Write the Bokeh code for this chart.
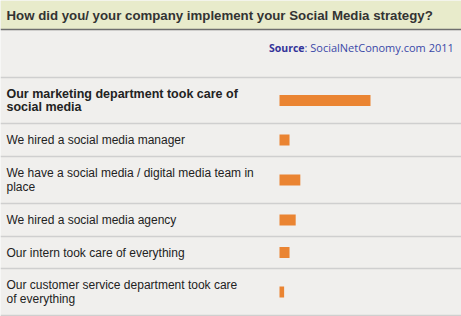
from bokeh.plotting import figure
from bokeh.models import Range1d
from bokeh.embed import file_html
from bokeh.resources import INLINE
from bokeh.core.properties import value

# ---- data ----
title = "How did you/ your company implement your Social Media strategy?"
source_label = "Source"
source_rest = ": SocialNetConomy.com 2011"
categories = [
    "Our marketing department took care of\nsocial media",
    "We hired a social media manager",
    "We have a social media / digital media team in\nplace",
    "We hired a social media agency",
    "Our intern took care of everything",
    "Our customer service department took care\nof everything",
]
values = [59, 6.5, 13.5, 10.5, 6.5, 3]

# ---- layout (pixel space) ----
W, H = 461, 316
row_bounds = [77, 123, 156, 203, 236, 268, 315]
centers = [(a + b) / 2 for a, b in zip(row_bounds[:-1], row_bounds[1:])]
bar_x0 = 279
px_per_unit = 91 / 59

BG = "#f0efed"
p = figure(width=W, height=H, x_range=Range1d(0, W), y_range=Range1d(H, 0),
           output_backend="svg", toolbar_location=None, min_border=0)
p.axis.visible = False
p.grid.visible = False
p.outline_line_color = None
p.background_fill_color = BG
p.border_fill_color = BG

p.extra_x_ranges = {"val": Range1d(start=-bar_x0 / px_per_unit, end=(W - bar_x0) / px_per_unit)}

# title band
p.quad(left=0, right=W, top=0, bottom=28.5, fill_color="#e8ebcb", line_color=None)
p.segment(x0=0, x1=W, y0=29, y1=29, line_color="#6e6e6e", line_width=1.5)
p.text(x=6, y=14.5, text=[title], text_font=value("Liberation Sans"), text_font_style="bold",
       text_font_size="13.25px", text_color="#333333", text_baseline="middle")

# source
p.text(x=304, y=47, text=[source_label], text_font=value("Open Sans"), text_font_style="bold",
       text_font_size="10.5px", text_color="#333399", text_baseline="middle", text_align="right")
p.text(x=304, y=47, text=[source_rest], text_font=value("Open Sans"),
       text_font_size="11px", text_color="#3a48a8", text_baseline="middle")

# separators
p.segment(x0=[0] * len(row_bounds), x1=[W] * len(row_bounds), y0=row_bounds, y1=row_bounds,
          line_color="#cfcfcf", line_width=1.5)

# labels
for i, (lab, c) in enumerate(zip(categories, centers)):
    lines = lab.split("\n")
    n = len(lines)
    for j, ln in enumerate(lines):
        y = c + (j - (n - 1) / 2) * 13.5
        p.text(x=6, y=y, text=[ln], text_font=value("Liberation Sans"),
               text_font_style="bold" if i == 0 else "normal",
               text_font_size="12.5px" if i == 0 else "12px",
               text_color="#222222", text_baseline="middle")

# bars
p.hbar(y=centers, left=0, right=values, height=11, x_range_name="val",
       fill_color="#ea8432", line_color=None)

open("out.html", "w").write(file_html(p, INLINE))
